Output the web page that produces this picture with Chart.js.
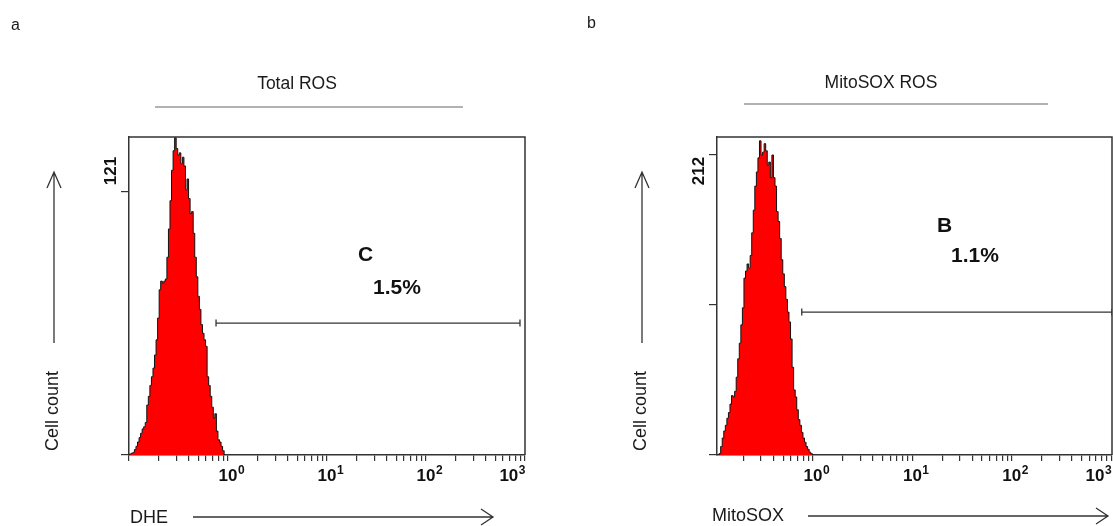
<!DOCTYPE html>
<html>
<head>
<meta charset="utf-8">
<script src="https://cdn.jsdelivr.net/npm/chart.js@4.4.1/dist/chart.umd.min.js"></script>
<style>
  html, body { margin: 0; padding: 0; background: #fff; overflow: hidden; }
  #wrap { position: relative; width: 1113px; height: 526px; }
  .panel { position: absolute; top: 0; height: 526px; }
  #panelA { left: 0; width: 557px; }
  #panelB { left: 557px; width: 556px; }
</style>
</head>
<body>
<div id="wrap">
  <div class="panel" id="panelA"><canvas id="chartA"></canvas></div>
  <div class="panel" id="panelB"><canvas id="chartB"></canvas></div>
</div>
<script>
// histogram channels: 64 channels per decade, channel 64 = 10^0
const dheFirstChannel = 0;
const dheCounts = [0, 0.5, 0.8, 1.2, 2.5, 4, 6, 8, 10, 12, 13, 15, 23, 27, 32, 36, 40, 46, 53, 63,
  76, 80, 79, 80, 81, 91, 104, 117, 131, 140, 146, 141, 138, 139, 134, 137, 133, 122, 127, 118,
  111, 112, 102, 91, 82, 73, 67, 60, 56, 53, 50, 36, 32, 27, 22, 17, 19, 11, 7, 6, 4, 2, 0];

const mitoFirstChannel = 3;
const mitoCounts = [0, 1, 6, 12, 17, 21, 26, 30, 36, 42, 41, 45, 55, 68, 79, 92, 104, 125, 130, 135,
  132, 141, 157, 173, 190, 200, 210, 222, 212, 214, 220, 215, 205, 207, 196, 212, 196, 190, 172, 165,
  153, 138, 128, 119, 110, 101, 94, 82, 62, 46, 41, 32, 25, 21, 16, 12, 9, 6, 4, 2, 1, 0];

// y ticks (the top one carries the label)
const dheYTicks = [0, 121];
const mitoYTicks = [0, 106, 212];

// x decades with a printed label
const decadeLabels = [1, 10, 100, 1000];

// marker gates: [from, to] on the x axis, and their height in counts
const dheGate = [0.757, 890];
const dheGateLevel = 60.7;
const mitoGate = [0.77, 1020];
const mitoGateLevel = 101;

const FONT = '"Liberation Sans", Arial, Helvetica, sans-serif';

function arrowRight(ctx, x1, x2, y) {
  ctx.beginPath();
  ctx.moveTo(x1, y); ctx.lineTo(x2, y);
  ctx.moveTo(x2 - 12, y - 8); ctx.lineTo(x2, y); ctx.lineTo(x2 - 12, y + 8);
  ctx.stroke();
}

function arrowUp(ctx, x, y1, y2) {
  ctx.beginPath();
  ctx.moveTo(x, y1); ctx.lineTo(x, y2);
  ctx.moveTo(x - 7, y2 + 16); ctx.lineTo(x, y2); ctx.lineTo(x + 7, y2 + 16);
  ctx.stroke();
}

function makePanel(canvasId, o) {
  const hist = o.counts.map((n, i) => ({ x: Math.pow(10, (o.firstChannel + i) / 64 - 1), y: n }));

  const decorate = {
    id: 'decorate',
    afterDraw(chart) {
      const ctx = chart.ctx, a = chart.chartArea, xs = chart.scales.x;
      ctx.save();

      // rest of the frame
      ctx.strokeStyle = '#333';
      ctx.lineWidth = 1.5;
      ctx.beginPath();
      ctx.moveTo(a.left, a.top); ctx.lineTo(a.right, a.top); ctx.lineTo(a.right, a.bottom);
      ctx.stroke();

      // decade labels 10^n
      ctx.fillStyle = '#111';
      ctx.textBaseline = 'alphabetic';
      ctx.textAlign = 'left';
      decadeLabels.forEach((v, i) => {
        const px = xs.getPixelForValue(v);
        const ex = String(Math.round(Math.log10(v)));
        ctx.font = 'bold 17px ' + FONT;
        const w = ctx.measureText('10').width;
        ctx.font = 'bold 12px ' + FONT;
        const we = ctx.measureText(ex).width;
        const left = i === decadeLabels.length - 1 ? px - w - we : px - w / 2;
        ctx.font = 'bold 17px ' + FONT;
        ctx.fillText('10', left, a.bottom + 26);
        ctx.font = 'bold 12px ' + FONT;
        ctx.fillText(ex, left + w + 0.5, a.bottom + 19);
      });

      // top count label, rotated
      ctx.save();
      ctx.translate(a.left - 18, a.top + 34);
      ctx.rotate(-Math.PI / 2);
      ctx.font = 'bold 17px ' + FONT;
      ctx.textAlign = 'center';
      ctx.textBaseline = 'middle';
      ctx.fillText(String(o.yTicks[o.yTicks.length - 1]), 0, 0);
      ctx.restore();

      // gate name and percentage
      ctx.font = 'bold 21px ' + FONT;
      ctx.textAlign = 'left';
      ctx.textBaseline = 'middle';
      ctx.fillText(o.gateName, a.left + o.nameAt[0], a.top + o.nameAt[1]);
      ctx.fillText(o.gatePct, a.left + o.pctAt[0], a.top + o.pctAt[1]);

      // panel letter and title
      ctx.fillStyle = '#1a1a1a';
      ctx.font = '16px ' + FONT;
      ctx.fillText(o.letter, o.letterAt[0], o.letterAt[1]);
      ctx.font = '17.5px ' + FONT;
      ctx.textAlign = 'center';
      ctx.fillText(o.title, o.titleAt[0], o.titleAt[1]);
      ctx.strokeStyle = '#999';
      ctx.lineWidth = 1.5;
      ctx.beginPath();
      ctx.moveTo(o.titleLine[0], o.titleLine[2]); ctx.lineTo(o.titleLine[1], o.titleLine[2]);
      ctx.stroke();

      // axis names with arrows
      ctx.strokeStyle = '#333';
      ctx.lineWidth = 1.3;
      ctx.font = '18px ' + FONT;
      ctx.textAlign = 'left';
      ctx.fillText(o.xName, o.xNameAt[0], o.xNameAt[1]);
      arrowRight(ctx, o.xArrow[0], o.xArrow[1], o.xArrow[2]);
      arrowUp(ctx, o.yArrow[0], o.yArrow[1], o.yArrow[2]);
      ctx.save();
      ctx.translate(o.yNameAt[0], o.yNameAt[1]);
      ctx.rotate(-Math.PI / 2);
      ctx.textAlign = 'center';
      ctx.fillText('Cell count', 0, 0);
      ctx.restore();

      ctx.restore();
    }
  };

  return new Chart(document.getElementById(canvasId), {
    type: 'line',
    data: {
      datasets: [{
        label: o.xName,
        data: hist,
        stepped: 'middle',
        fill: 'origin',
        backgroundColor: '#ff0000',
        borderColor: '#111',
        borderWidth: 1,
        pointRadius: 0
      }, {
        label: 'gate',
        data: [{ x: o.gate[0], y: o.gateLevel }, { x: o.gate[1], y: o.gateLevel }],
        fill: false,
        borderColor: '#333',
        borderWidth: 1.3,
        pointStyle: 'line',
        rotation: 90,
        pointRadius: 3.5,
        pointBorderColor: '#333',
        pointBorderWidth: 1.3
      }]
    },
    options: {
      responsive: true,
      maintainAspectRatio: false,
      animation: false,
      layout: { autoPadding: false, padding: { top: 137, right: o.padRight, left: 0, bottom: 0 } },
      plugins: { legend: { display: false }, tooltip: { enabled: false } },
      scales: {
        x: {
          type: 'logarithmic',
          min: o.xMin,
          max: o.xMax,
          afterBuildTicks: scale => {
            const ticks = [];
            for (let e = -1; e <= 3; e++) {
              for (let s = 1; s <= 9; s++) {
                const v = s * Math.pow(10, e);
                if (v >= scale.min * 0.999 && v <= scale.max * 1.001) ticks.push({ value: v });
              }
            }
            scale.ticks = ticks;
          },
          afterFit: scale => {
            scale.height = 526 - 455;
            scale.paddingLeft = 0;
            scale.paddingRight = 0;
          },
          ticks: { autoSkip: false, maxRotation: 0, callback: () => '' },
          grid: { drawOnChartArea: false, drawTicks: true, tickLength: 6, color: '#333', lineWidth: 1.2 },
          border: { display: true, color: '#333', width: 1.5 }
        },
        y: {
          type: 'linear',
          min: 0,
          max: o.yMax,
          afterBuildTicks: scale => { scale.ticks = o.yTicks.map(v => ({ value: v })); },
          afterFit: scale => {
            scale.width = o.axisLeft;
            scale.paddingTop = 0;
            scale.paddingBottom = 0;
          },
          ticks: { callback: () => '' },
          grid: { drawOnChartArea: false, drawTicks: true, tickLength: 8, color: '#333', lineWidth: 1.2 },
          border: { display: true, color: '#333', width: 1.5 }
        }
      }
    },
    plugins: [decorate]
  });
}

makePanel('chartA', {
  counts: dheCounts, firstChannel: dheFirstChannel,
  yTicks: dheYTicks, yMax: 146.3,
  xMin: 0.1, xMax: 1000,
  gate: dheGate, gateLevel: dheGateLevel,
  gateName: 'C', gatePct: '1.5%', nameAt: [229, 118], pctAt: [244, 151],
  axisLeft: 129, padRight: 32,
  letter: 'a', letterAt: [11, 26],
  title: 'Total ROS', titleAt: [297, 84], titleLine: [155, 463, 107],
  xName: 'DHE', xNameAt: [130, 518], xArrow: [193, 493, 517],
  yArrow: [54, 343, 172], yNameAt: [53, 411]
});

makePanel('chartB', {
  counts: mitoCounts, firstChannel: mitoFirstChannel,
  yTicks: mitoYTicks, yMax: 224.7,
  xMin: 0.108, xMax: 1020,
  gate: mitoGate, gateLevel: mitoGateLevel,
  gateName: 'B', gatePct: '1.1%', nameAt: [220, 89], pctAt: [234, 119],
  axisLeft: 160, padRight: 1,
  letter: 'b', letterAt: [30, 24],
  title: 'MitoSOX ROS', titleAt: [324, 83], titleLine: [187, 491, 104],
  xName: 'MitoSOX', xNameAt: [155, 516], xArrow: [251, 551, 516],
  yArrow: [85, 343, 172], yNameAt: [84, 411]
});
</script>
</body>
</html>
